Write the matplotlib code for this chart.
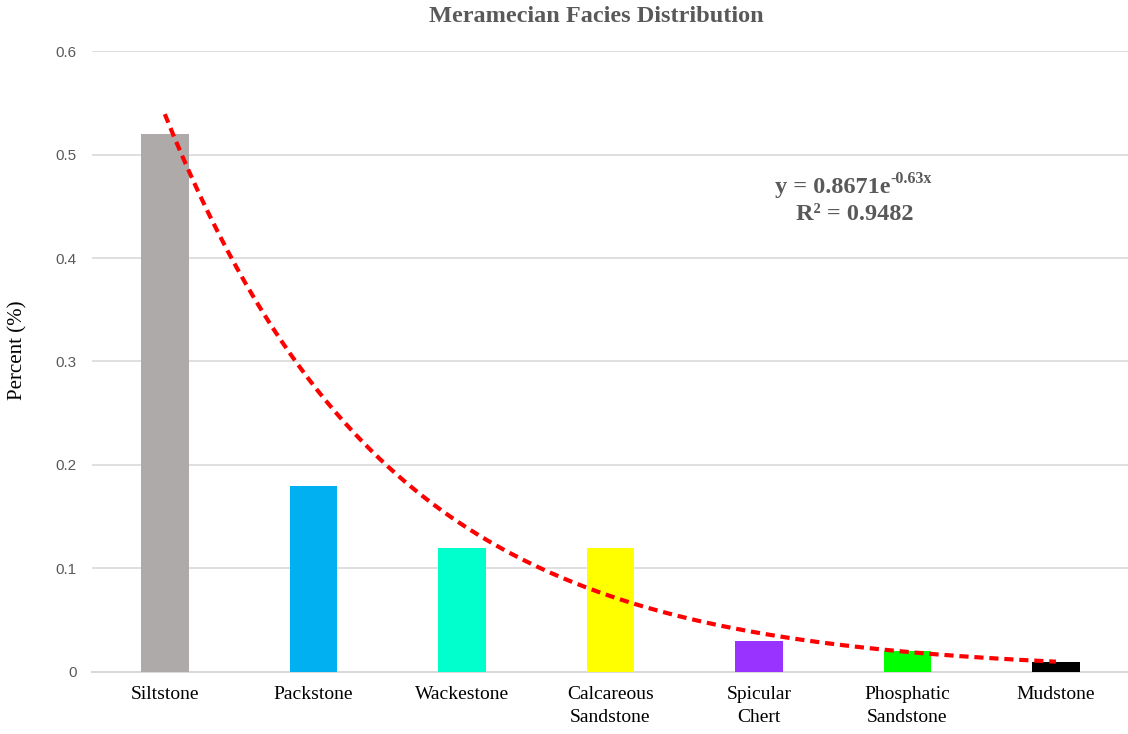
import numpy as np
import matplotlib.pyplot as plt

# ---------------------------------------------------------
# data
# ---------------------------------------------------------
facies = ["Siltstone", "Packstone", "Wackestone", "Calcareous\nSandstone",
          "Spicular\nChert", "Phosphatic\nSandstone", "Mudstone"]
percent = [0.52, 0.18, 0.12, 0.12, 0.03, 0.02, 0.01]
bar_colors = ["#AEAAAA", "#00B0F0", "#00FFCC", "#FFFF00",
              "#9933FF", "#00FF00", "#000000"]

# exponential trendline as it is drawn (start value and decay per category)
trend_start = 0.539
trend_decay = 0.665
eq_main = "y = 0.8671e"
eq_sup = "-0.63x"
r2_label = "R² = 0.9482"

yticks = [0, 0.1, 0.2, 0.3, 0.4, 0.5, 0.6]
ytick_labels = ["0", "0.1", "0.2", "0.3", "0.4", "0.5", "0.6"]

# ---------------------------------------------------------
# plot
# ---------------------------------------------------------
fig = plt.figure(figsize=(11.28, 7.34), dpi=100)
ax = fig.add_axes([0.0816, 0.0845, 0.921, 0.846])

x = np.arange(len(facies))
ax.bar(x, percent, width=0.32, color=bar_colors, zorder=3)

tx = np.linspace(0, len(facies) - 1, 300)
ty = trend_start * np.exp(-trend_decay * tx)
ax.plot(tx, ty, color="#FF0000", lw=3, linestyle=(0, (2.2, 1.4)), zorder=4)

ax.set_xlim(-0.49, 6.505)
ax.set_ylim(0, 0.6)
ax.set_yticks(yticks)
ax.set_yticklabels(ytick_labels, fontfamily="Liberation Sans", fontsize=11, color="#595959")
ax.set_xticks(x)
ax.set_xticklabels(facies, fontfamily="Liberation Serif", fontsize=14, color="#000000",
                   va="top", linespacing=1.45)
ax.tick_params(axis="both", length=0)
ax.tick_params(axis="x", pad=10)
ax.tick_params(axis="y", pad=11)

ax.grid(axis="y", color="#D9D9D9", lw=1.2, zorder=0)
for side in ["top", "right", "left"]:
    ax.spines[side].set_visible(False)
ax.spines["bottom"].set_color("#D9D9D9")
ax.spines["bottom"].set_linewidth(1.5)

ax.set_ylabel("Percent (%)", fontfamily="Liberation Serif", fontsize=15, color="#000000")
ax.yaxis.set_label_coords(-0.0626, 0.518)

fig.text(0.529, 0.977, "Meramecian Facies Distribution", ha="center", va="center",
         fontfamily="Liberation Serif", fontweight="bold", fontsize=17.5, color="#595959")

t1 = ax.text(0.657, 0.781, eq_main, transform=ax.transAxes, ha="left", va="center",
             fontfamily="Liberation Serif", fontweight="bold", fontsize=17.5, color="#595959")
ax.annotate(eq_sup, xy=(1.0, 0.5), xycoords=t1, ha="left", va="bottom",
            fontfamily="Liberation Serif", fontweight="bold", fontsize=11.5, color="#595959")
ax.text(0.734, 0.736, r2_label, transform=ax.transAxes, ha="center", va="center",
        fontfamily="Liberation Serif", fontweight="bold", fontsize=17.5, color="#595959")

fig.savefig("out.png", dpi=100)
